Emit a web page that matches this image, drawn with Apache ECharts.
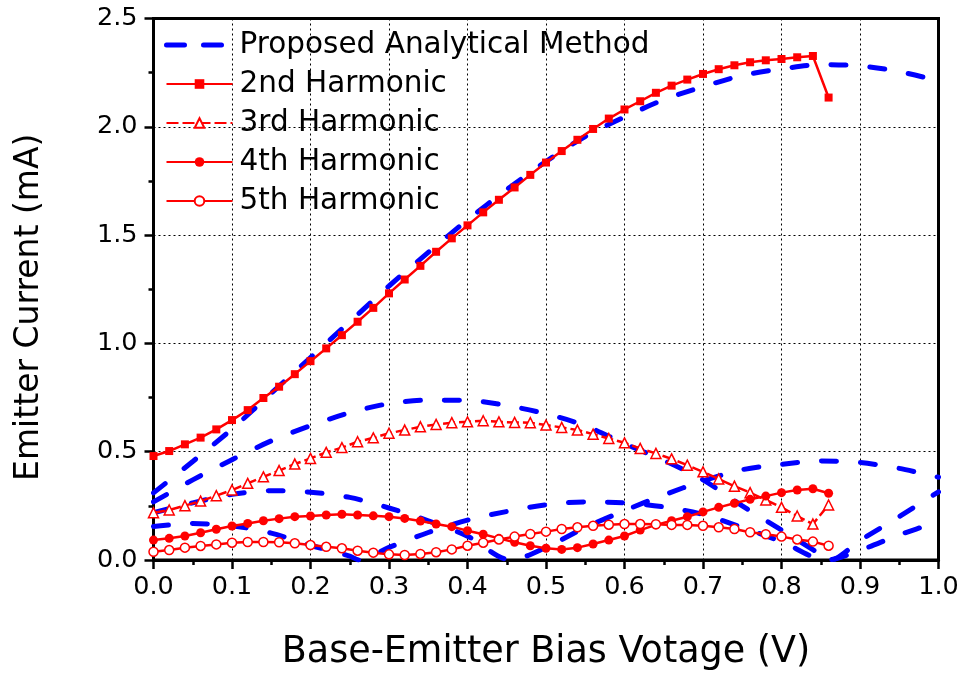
<!DOCTYPE html>
<html><head><meta charset="utf-8">
<script src="https://cdn.jsdelivr.net/npm/echarts@6/dist/echarts.min.js"></script>
<style>html,body{margin:0;padding:0;background:#fff}#c{width:973px;height:677px}</style>
</head><body><div id="c"></div>
<script>
// Measured bias voltages (V) for the harmonic data
const harmonicX = [0,0.02,0.04,0.06,0.08,0.10,0.12,0.14,0.16,0.18,0.20,0.22,0.24,0.26,0.28,0.30,0.32,0.34,0.36,0.38,0.40,0.42,0.44,0.46,0.48,0.50,0.52,0.54,0.56,0.58,0.60,0.62,0.64,0.66,0.68,0.70,0.72,0.74,0.76,0.78,0.80,0.82,0.84,0.86];
const harm2 = [0.48,0.503,0.534,0.565,0.603,0.646,0.692,0.748,0.800,0.858,0.918,0.977,1.038,1.10,1.164,1.231,1.295,1.358,1.423,1.485,1.545,1.605,1.663,1.72,1.778,1.835,1.888,1.94,1.99,2.038,2.08,2.118,2.157,2.19,2.218,2.244,2.266,2.284,2.298,2.307,2.313,2.321,2.327,2.135];
const harm3 = [0.218,0.231,0.251,0.272,0.297,0.323,0.354,0.384,0.413,0.443,0.469,0.497,0.519,0.546,0.564,0.585,0.600,0.615,0.626,0.634,0.638,0.643,0.638,0.635,0.634,0.623,0.612,0.600,0.581,0.561,0.541,0.515,0.492,0.467,0.438,0.407,0.374,0.341,0.311,0.277,0.243,0.203,0.166,0.254];
const harm4 = [0.092,0.10,0.111,0.126,0.142,0.157,0.169,0.181,0.191,0.20,0.203,0.208,0.211,0.208,0.204,0.20,0.192,0.18,0.166,0.154,0.135,0.119,0.10,0.082,0.066,0.054,0.049,0.057,0.074,0.092,0.111,0.138,0.162,0.181,0.20,0.222,0.243,0.262,0.28,0.295,0.311,0.323,0.329,0.308];
const harm5 = [0.038,0.046,0.057,0.065,0.072,0.08,0.083,0.083,0.082,0.077,0.069,0.061,0.054,0.043,0.034,0.026,0.023,0.028,0.036,0.049,0.066,0.08,0.095,0.108,0.12,0.131,0.143,0.151,0.158,0.163,0.166,0.166,0.165,0.162,0.162,0.158,0.151,0.143,0.128,0.119,0.108,0.095,0.085,0.066];

// Proposed analytical method curves
const model2X = [0,0.05,0.1,0.15,0.2,0.25,0.3,0.35,0.4,0.45,0.5,0.55,0.6,0.65,0.7,0.75,0.8,0.85,0.9,0.95,1.0];
const model2Y = [0.31,0.455,0.605,0.77,0.935,1.10,1.265,1.42,1.57,1.71,1.84,1.955,2.045,2.125,2.185,2.237,2.267,2.287,2.281,2.255,2.212];
const model3X = [0,0.05,0.1,0.15,0.2,0.25,0.3,0.35,0.4,0.45,0.5,0.55,0.6,0.65,0.7,0.75,0.8,0.85,0.862,0.9,0.95,1.0];
const model3Y = [0.268,0.37,0.463,0.55,0.62,0.68,0.722,0.738,0.737,0.713,0.675,0.62,0.537,0.46,0.37,0.25,0.138,0.025,0,0.09,0.20,0.315];
const model4X = [0,0.05,0.1,0.15,0.2,0.25,0.3,0.35,0.4,0.455,0.5,0.55,0.6,0.65,0.7,0.75,0.8,0.85,0.9,0.95,1.0];
const model4Y = [0.218,0.264,0.303,0.32,0.313,0.289,0.24,0.181,0.11,0,0.058,0.15,0.228,0.30,0.365,0.417,0.442,0.457,0.45,0.423,0.382];
const model5X = [0,0.05,0.1,0.15,0.2,0.25,0.262,0.3,0.35,0.4,0.45,0.5,0.55,0.6,0.65,0.7,0.75,0.8,0.857,0.9,0.95,1.0];
const model5Y = [0.155,0.168,0.158,0.124,0.068,0.018,0,0.058,0.127,0.184,0.224,0.255,0.268,0.264,0.245,0.21,0.15,0.085,0,0.045,0.116,0.177];

const modelName = 'Proposed Analytical Method';
const harmonicNames = ['2nd Harmonic','3rd Harmonic','4th Harmonic','5th Harmonic'];
const xTitle = 'Base-Emitter Bias Votage (V)';
const yTitle = 'Emitter Current (mA)';

const FONT = 'DejaVu Sans';
const RED = '#ff0000', BLUE = '#0000ff';

function pairs(xs, ys){ return xs.map((x,i)=>[x, ys[i]]); }

function modelSeries(xs, ys){
  return {
    name: modelName, type: 'line', data: pairs(xs, ys), smooth: 0.3,
    symbol: 'none', z: 2,
    lineStyle: {color: BLUE, width: 5, type: [15, 24], cap: 'round'},
    itemStyle: {color: BLUE}
  };
}
function harmSeries(name, ys, symbol, size, filled, dashed){
  return {
    name, type: 'line', data: pairs(harmonicX, ys), symbol, symbolSize: size, z: 3,
    showSymbol: true,
    lineStyle: {color: RED, width: 2.5, type: dashed ? [12, 4] : 'solid'},
    itemStyle: {color: filled ? RED : '#ffffff', borderColor: RED, borderWidth: filled ? 0 : 1.5}
  };
}

const axisCommon = {
  type: 'value',
  axisLine: {show: true, onZero: false, lineStyle: {color: '#000', width: 3}},
  axisTick: {show: true, inside: false, length: 9, lineStyle: {color: '#000', width: 2.5}},
  minorTick: {show: true, splitNumber: 2, length: 5, lineStyle: {color: '#000', width: 2.5}},
  splitLine: {show: true, lineStyle: {color: '#000', width: 1, type: [2, 3]}},
  minorSplitLine: {show: false},
  nameLocation: 'middle'
};

const chart = echarts.init(document.getElementById('c'), null, {renderer: 'canvas'});
chart.setOption({
  backgroundColor: '#fff',
  animation: false,
  grid: {left: 153.5, right: 34.5, top: 18.5, bottom: 117, show: true, borderColor: '#000', borderWidth: 3, containLabel: false, outerBoundsMode: 'none'},
  legend: {
    data: [{name: modelName, itemStyle: {opacity: 0}, lineStyle: {width: 5, type: [18, 19]}}].concat(harmonicNames),
    orient: 'vertical', left: 164, top: 30, padding: 0,
    itemWidth: 66, itemHeight: 12, itemGap: 9,
    textStyle: {fontFamily: FONT, fontSize: 29.5, color: '#000', padding: [0,0,0,2]}
  },
  xAxis: Object.assign({}, axisCommon, {
    min: 0, max: 1, interval: 0.1,
    name: xTitle, nameGap: 74,
    nameTextStyle: {fontFamily: FONT, fontSize: 36.5, color: '#000'},
    axisLabel: {fontFamily: FONT, fontSize: 25.5, color: '#000', margin: 14, formatter: v => v.toFixed(1)}
  }),
  yAxis: Object.assign({}, axisCommon, {
    min: 0, max: 2.5, interval: 0.5,
    name: yTitle, nameGap: 108,
    nameTextStyle: {fontFamily: FONT, fontSize: 33, color: '#000', padding: [0, 36, 0, 0]},
    axisLabel: {fontFamily: FONT, fontSize: 25.5, color: '#000', margin: 16, formatter: v => v.toFixed(1)}
  }),
  series: [
    modelSeries(model2X, model2Y),
    modelSeries(model3X, model3Y),
    modelSeries(model4X, model4Y),
    modelSeries(model5X, model5Y),
    harmSeries('2nd Harmonic', harm2, 'rect', 8, true, false),
    harmSeries('3rd Harmonic', harm3, 'triangle', 10, false, true),
    harmSeries('4th Harmonic', harm4, 'circle', 9, true, false),
    harmSeries('5th Harmonic', harm5, 'circle', 9, false, false)
  ]
});
</script>
</body></html>
